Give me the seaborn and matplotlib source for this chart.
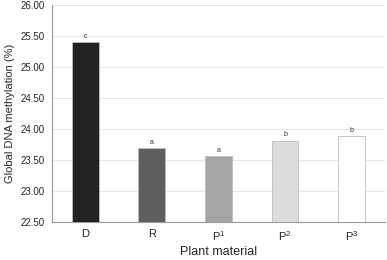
import numpy as np
import matplotlib
matplotlib.use("Agg")
import matplotlib.pyplot as plt
import pandas as pd
import seaborn as sns

# dane
materials = ["D", "R", "P1", "P2", "P3"]
tick_labels = ["D", "R", "P$^1$", "P$^2$", "P$^3$"]
methylation = [25.40, 23.69, 23.56, 23.81, 23.88]
letters = ["c", "a", "a", "b", "b"]
bar_colors = ["#222222", "#5f5f5f", "#a5a5a5", "#dcdcdc", "#ffffff"]

df = pd.DataFrame({"material": materials, "value": methylation})

sns.set_style("white")
plt.rcParams["font.family"] = ["Liberation Sans", "DejaVu Sans"]
plt.rcParams["mathtext.default"] = "regular"

fig = plt.figure(figsize=(3.87, 2.60), dpi=100)
ax = fig.add_axes([0.134, 0.146, 0.861, 0.835])

sns.barplot(data=df, x="material", y="value", hue="material",
            palette=bar_colors, width=0.4, legend=False, ax=ax,
            edgecolor="#bdbdbd", linewidth=0.6, zorder=3)

# literki nad slupkami
for i, (v, t) in enumerate(zip(methylation, letters)):
    ax.text(i, v + 0.04, t, ha="center", va="bottom", fontsize=5, color="#333333")

ax.set_ylim(22.5, 26.0)
ax.set_xlim(-0.5, 4.5)
ax.set_yticks(np.arange(22.5, 26.01, 0.5))
ax.set_yticklabels([f"{t:.2f}" for t in np.arange(22.5, 26.01, 0.5)], fontsize=7)
ax.set_xticks(range(len(materials)))
ax.set_xticklabels(tick_labels, fontsize=8)
ax.set_xticks(np.arange(0.5, 4.6, 1.0), minor=True)
ax.tick_params(axis="x", which="major", length=0, pad=5)
ax.tick_params(axis="x", which="minor", length=3, color="#999999", direction="out")
ax.tick_params(axis="y", length=3, color="#999999", direction="out", pad=2)
ax.yaxis.grid(True, color="#e6e6e6", linewidth=0.8, zorder=0)
ax.set_axisbelow(True)

for s in ["top", "right"]:
    ax.spines[s].set_visible(False)
for s in ["left", "bottom"]:
    ax.spines[s].set_color("#999999")
    ax.spines[s].set_linewidth(0.8)

ax.set_xlabel("Plant material", fontsize=9, labelpad=2)
ax.set_ylabel("Global DNA methylation (%)", fontsize=8, labelpad=4)

fig.savefig("out.png", dpi=100)
